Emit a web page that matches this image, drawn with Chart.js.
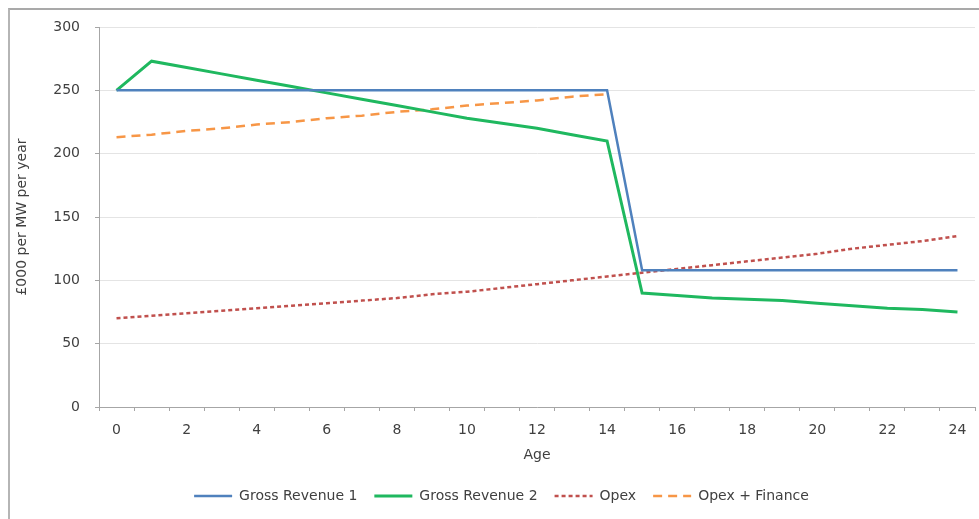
<!DOCTYPE html>
<html>
<head>
<meta charset="utf-8">
<script src="https://cdn.jsdelivr.net/npm/chart.js@4"></script>
<style>
	html, body { margin: 0; padding: 0; background: #fff; }
	#frame { position: absolute; left: 8px; top: 8px; width: 971px; height: 511px; border-top: 2px solid #a9a9a9; border-left: 2px solid #b5b5b5; box-sizing: border-box; }
	#wrap { position: absolute; left: 0; top: 0; width: 979px; height: 519px; }
</style>
</head>
<body>
<div id="frame"></div>
<div id="wrap"><canvas id="revenue"></canvas></div>
<script>
const ages = ['0','1','2','3','4','5','6','7','8','9','10','11','12','13','14','15','16','17','18','19','20','21','22','23','24'];
const grossRevenue1 = [250,250,250,250,250,250,250,250,250,250,250,250,250,250,250,108,108,108,108,108,108,108,108,108,108];
const grossRevenue2 = [250,273,268,263,258,253,248,243,238,233,228,224,220,215,210,90,88,86,85,84,82,80,78,77,75];
const opex = [70,72,74,76,78,80,82,84,86,89,91,94,97,100,103,106,109,112,115,118,121,125,128,131,135];
const opexFinance = [213,215,218,220,223,225,228,230,233,235,238,240,242,245,247,null,null,null,null,null,null,null,null,null,null];

const textColor = '#404040';
const fontFamily = '"DejaVu Sans", sans-serif';

// nudge the legend a little to the right, like the original
const legendShift = {
	id: 'legendShift',
	afterLayout: function(chart) {
		if (chart.legend) {
			chart.legend.left += 14;
			chart.legend.right += 14;
		}
	}
};

var ctx = document.getElementById('revenue');
new Chart(ctx, {
	type: 'line',
	plugins: [legendShift],
	data: {
		labels: ages,
		datasets: [{
			label: 'Gross Revenue 1',
			data: grossRevenue1,
			borderColor: '#4f81bd',
			borderWidth: 2.5,
			pointRadius: 0,
			pointStyle: 'line',
			tension: 0
		}, {
			label: 'Gross Revenue 2',
			data: grossRevenue2,
			borderColor: '#1fb85f',
			borderWidth: 3,
			pointRadius: 0,
			pointStyle: 'line',
			tension: 0
		}, {
			label: 'Opex',
			data: opex,
			borderColor: '#c0504d',
			borderWidth: 2.5,
			borderDash: [4, 3],
			pointRadius: 0,
			pointStyle: 'line',
			tension: 0
		}, {
			label: 'Opex + Finance',
			data: opexFinance,
			borderColor: '#f79646',
			borderWidth: 2.5,
			borderDash: [9, 6],
			pointRadius: 0,
			pointStyle: 'line',
			tension: 0
		}]
	},
	options: {
		responsive: true,
		maintainAspectRatio: false,
		animation: false,
		layout: { padding: { top: 27, right: 4, bottom: 6, left: 0 } },
		plugins: {
			tooltip: { enabled: false },
			legend: {
				display: true,
				position: 'bottom',
				labels: {
					usePointStyle: true,
					pointStyleWidth: 38,
					boxHeight: 14,
					padding: 17,
					color: textColor,
					font: { family: fontFamily, size: 14 },
					generateLabels: function(chart) {
						const items = Chart.defaults.plugins.legend.labels.generateLabels(chart);
						items.forEach(function(item) {
							const ds = chart.data.datasets[item.datasetIndex];
							item.lineDash = ds.borderDash || [];
							item.lineWidth = ds.borderWidth;
							item.strokeStyle = ds.borderColor;
						});
						return items;
					}
				}
			}
		},
		scales: {
			x: {
				offset: true,
				afterFit: function(scale) { scale.height = 65; },
				grid: { display: true, drawOnChartArea: false, offset: true, tickLength: 4, tickColor: '#a6a6a6' },
				border: { color: '#a6a6a6', width: 1 },
				ticks: {
					autoSkip: false,
					maxRotation: 0,
					padding: 11,
					color: textColor,
					font: { family: fontFamily, size: 14 },
					callback: function(value, index) { return index % 2 === 0 ? ages[index] : ''; }
				},
				title: { display: true, text: 'Age', color: textColor, font: { family: fontFamily, size: 14 }, padding: { top: 0, bottom: 8 } }
			},
			y: {
				min: 0,
				max: 300,
				afterFit: function(scale) { scale.width = 99; },
				grid: { color: '#e4e4e4', tickLength: 4, tickColor: '#a6a6a6' },
				border: { color: '#a6a6a6', width: 1 },
				ticks: {
					stepSize: 50,
					padding: 15,
					color: textColor,
					font: { family: fontFamily, size: 14 }
				},
				title: { display: true, text: '£000 per MW per year', color: textColor, font: { family: fontFamily, size: 14 }, padding: { top: 14, bottom: 0 } }
			}
		}
	}
});
</script>
</body>
</html>
